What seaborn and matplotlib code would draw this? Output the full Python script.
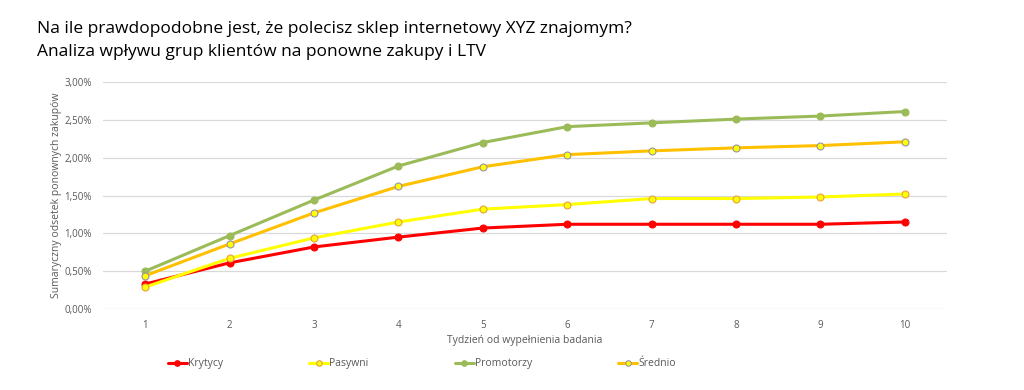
import matplotlib
matplotlib.use("Agg")
import matplotlib.pyplot as plt
import seaborn as sns
import pandas as pd
from matplotlib.ticker import FuncFormatter, FixedLocator

weeks = [1, 2, 3, 4, 5, 6, 7, 8, 9, 10]
krytycy = [0.33, 0.61, 0.82, 0.95, 1.07, 1.12, 1.12, 1.12, 1.12, 1.15]
pasywni = [0.29, 0.67, 0.94, 1.15, 1.32, 1.38, 1.46, 1.46, 1.48, 1.52]
promotorzy = [0.50, 0.97, 1.44, 1.89, 2.20, 2.41, 2.46, 2.51, 2.55, 2.61]
srednio = [0.44, 0.86, 1.27, 1.62, 1.88, 2.04, 2.09, 2.13, 2.16, 2.21]
series_names = ["Krytycy", "Pasywni", "Promotorzy", "Średnio"]

sns.set_theme(style="white")
plt.rcParams['font.family'] = ['Open Sans', 'DejaVu Sans']

fig = plt.figure(figsize=(10.24, 3.9), dpi=100)
ax = fig.add_axes([0.1006, 0.2077, 0.8242, 0.582])

styles = [
    dict(color="#FF0000", mfc="#FF0000", mec="#FF0000"),
    dict(color="#FFFF00", mfc="#FFFF00", mec="#E8A040"),
    dict(color="#9BBB59", mfc="#9BBB59", mec="#9BBB59"),
    dict(color="#FFC000", mfc="#FFFF00", mec="#9A90A8"),
]
values = [krytycy, pasywni, promotorzy, srednio]
for name, vals, st in zip(series_names, values, styles):
    df = pd.DataFrame({"week": weeks, "val": vals})
    sns.lineplot(data=df, x="week", y="val", ax=ax, color=st["color"], lw=2.2,
                 marker="o", markersize=5, markerfacecolor=st["mfc"],
                 markeredgecolor=st["mec"], markeredgewidth=0.8, label=name)

ax.set_xlim(0.5, 10.5)
ax.set_ylim(0, 3.0)
ax.yaxis.set_major_locator(FixedLocator([0, 0.5, 1.0, 1.5, 2.0, 2.5, 3.0]))
ax.yaxis.set_major_formatter(FuncFormatter(lambda v, p: f"{v:.2f}%".replace(".", ",")))
ax.set_xticks(weeks)
ax.grid(axis="y", color="#D9D9D9", lw=0.9)
for s in ax.spines.values():
    s.set_visible(False)
ax.tick_params(axis="both", labelsize=7, colors="#595959", length=0, pad=8)
ax.set_xlabel("Tydzień od wypełnienia badania", fontsize=7.5, color="#595959", labelpad=3)
ax.set_ylabel("Sumaryczny odsetek ponownych zakupów", fontsize=7.5, color="#595959", labelpad=2)

handles, labels = ax.get_legend_handles_labels()
ax.get_legend().remove()
leg = fig.legend(handles, labels, loc="center", bbox_to_anchor=(0.412, 0.067), ncol=4,
                 frameon=False, fontsize=7.5, columnspacing=8.3, handlelength=1.8,
                 handletextpad=0.1, markerscale=0.8)
for t in leg.get_texts():
    t.set_color("#595959")

fig.text(0.036, 0.925, "Na ile prawdopodobne jest, że polecisz sklep internetowy XYZ znajomym?",
         fontsize=12.5, color="#000000", va="center")
fig.text(0.036, 0.867, "Analiza wpływu grup klientów na ponowne zakupy i LTV",
         fontsize=12.5, color="#000000", va="center")

fig.savefig("out.png", dpi=100)
